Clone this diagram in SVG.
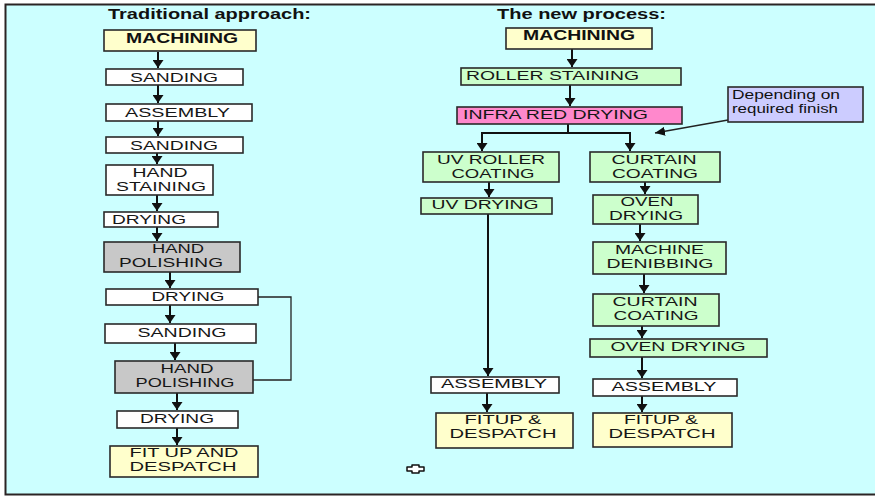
<svg xmlns="http://www.w3.org/2000/svg" width="875" height="498" viewBox="0 0 875 498">
<style>
.bx{stroke:#2a2a2a;stroke-width:1.6}
.y{fill:#FFFFCC}.w{fill:#FFFFFF}.g{fill:#CCFFCC}.gr{fill:#C8C8C8}.p{fill:#FF88CC}.l{fill:#CCCCFF}
text{font-family:"Liberation Sans",Arial,sans-serif;font-size:13px;fill:#161616}
.c{text-anchor:middle}
.b{font-weight:bold;fill:#111;font-size:14px}
.s{font-size:12px;fill:#111}
.ar{stroke:#111;stroke-width:2;fill:none;marker-end:url(#ah)}
.ln{stroke:#111;stroke-width:2;fill:none}
.thin{stroke:#222;stroke-width:1.3;fill:none}
</style>
<defs>
<marker id="ah" viewBox="0 0 8 11" refX="8" refY="5.5" markerWidth="8" markerHeight="11" markerUnits="userSpaceOnUse" orient="auto">
<path d="M0,0 L8,5.5 L0,11 z" fill="#111"/>
</marker>
<marker id="ah2" viewBox="0 0 10 9" refX="10" refY="4.5" markerWidth="10" markerHeight="9" markerUnits="userSpaceOnUse" orient="auto">
<path d="M0,0 L10,4.5 L0,9 z" fill="#111"/>
</marker>
</defs>
<rect x="0" y="0" width="875" height="498" fill="#FFFFFF"/>
<rect x="5.5" y="4.5" width="880" height="490" fill="#CCFFFF" stroke="#2b2424" stroke-width="2"/>

<text id="title-trad" class="b" x="108" y="19" textLength="203" lengthAdjust="spacingAndGlyphs">Traditional approach:</text>
<text id="title-new" class="b" x="497" y="19" textLength="169" lengthAdjust="spacingAndGlyphs">The new process:</text>

<g id="connectors">
<path class="ar" d="M158,52 V68"/>
<path class="ar" d="M158,85 V103"/>
<path class="ar" d="M158,121 V136"/>
<path class="ar" d="M157,153 V164"/>
<path class="ar" d="M157,195 V211"/>
<path class="ar" d="M157,227 V241"/>
<path class="ar" d="M170,272 V288"/>
<path class="ar" d="M170,305 V323"/>
<path class="ar" d="M175,343 V360"/>
<path class="ar" d="M177,393 V410"/>
<path class="ar" d="M177,428 V445"/>
<path class="thin" d="M258,297 H291 V380 H253"/>
<path class="ar" d="M572,49 V67"/>
<path class="ar" d="M570,85 V106"/>
<path class="ln" d="M568,124 V133 M481,133 H631"/>
<path class="ar" d="M482,133 V151"/>
<path class="ar" d="M630,133 V151"/>
<path class="ar" d="M489,182 V197"/>
<path class="ar" d="M488,214 V376"/>
<path class="ar" d="M487,393 V412"/>
<path class="ar" d="M645,182 V194"/>
<path class="ar" d="M640,224 V241"/>
<path class="ar" d="M644,274 V293"/>
<path class="ar" d="M642,326 V338"/>
<path class="ar" d="M642,357 V378"/>
<path class="ar" d="M642,396 V412"/>
<path class="thin" d="M728,120 L655,133" marker-end="url(#ah2)"/>
</g>

<g id="t-machining"><rect class="bx y" x="104" y="30" width="152" height="21"/><text class="c b" x="182" y="43" textLength="112" lengthAdjust="spacingAndGlyphs">MACHINING</text></g>
<g id="t-sanding1"><rect class="bx w" x="106" y="69" width="137" height="16"/><text class="c" x="174" y="82" textLength="88" lengthAdjust="spacingAndGlyphs">SANDING</text></g>
<g id="t-assembly"><rect class="bx w" x="106" y="104" width="146" height="17"/><text class="c" x="177.5" y="117" textLength="105" lengthAdjust="spacingAndGlyphs">ASSEMBLY</text></g>
<g id="t-sanding2"><rect class="bx w" x="106" y="137" width="137" height="16"/><text class="c" x="174" y="150" textLength="88" lengthAdjust="spacingAndGlyphs">SANDING</text></g>
<g id="t-handstaining"><rect class="bx w" x="106" y="165" width="107" height="30"/><text class="c" x="160" y="177" textLength="55" lengthAdjust="spacingAndGlyphs">HAND</text><text class="c" x="161" y="191" textLength="90" lengthAdjust="spacingAndGlyphs">STAINING</text></g>
<g id="t-drying1"><rect class="bx w" x="104" y="212" width="114" height="15"/><text class="c" x="149" y="224" textLength="74" lengthAdjust="spacingAndGlyphs">DRYING</text></g>
<g id="t-polishing1"><rect class="bx gr" x="104" y="242" width="136" height="30"/><text class="c" x="178" y="253" textLength="52" lengthAdjust="spacingAndGlyphs">HAND</text><text class="c" x="171" y="267" textLength="104" lengthAdjust="spacingAndGlyphs">POLISHING</text></g>
<g id="t-drying2"><rect class="bx w" x="106" y="289" width="152" height="16"/><text class="c" x="188" y="301" textLength="73" lengthAdjust="spacingAndGlyphs">DRYING</text></g>
<g id="t-sanding3"><rect class="bx w" x="105" y="324" width="151" height="19"/><text class="c" x="182" y="337" textLength="89" lengthAdjust="spacingAndGlyphs">SANDING</text></g>
<g id="t-polishing2"><rect class="bx gr" x="115" y="361" width="138" height="32"/><text class="c" x="187" y="373" textLength="53" lengthAdjust="spacingAndGlyphs">HAND</text><text class="c" x="185" y="387" textLength="99" lengthAdjust="spacingAndGlyphs">POLISHING</text></g>
<g id="t-drying3"><rect class="bx w" x="117" y="411" width="121" height="17"/><text class="c" x="177" y="423" textLength="74" lengthAdjust="spacingAndGlyphs">DRYING</text></g>
<g id="t-fitup"><rect class="bx y" x="110" y="446" width="148" height="31"/><text class="c" x="184" y="457" textLength="109" lengthAdjust="spacingAndGlyphs">FIT UP AND</text><text class="c" x="183" y="471" textLength="107" lengthAdjust="spacingAndGlyphs">DESPATCH</text></g>

<g id="n-machining"><rect class="bx y" x="506" y="28" width="146" height="21"/><text class="c b" x="579" y="40" textLength="112" lengthAdjust="spacingAndGlyphs">MACHINING</text></g>
<g id="n-roller"><rect class="bx g" x="461" y="68" width="220" height="17"/><text x="466" y="80" textLength="173" lengthAdjust="spacingAndGlyphs">ROLLER STAINING</text></g>
<g id="n-infrared"><rect class="bx p" x="457" y="107" width="225" height="17"/><text x="463" y="119" textLength="185" lengthAdjust="spacingAndGlyphs">INFRA RED DRYING</text></g>
<g id="n-uvroller"><rect class="bx g" x="423" y="152" width="136" height="30"/><text class="c" x="491" y="164" textLength="108" lengthAdjust="spacingAndGlyphs">UV ROLLER</text><text class="c" x="493" y="178" textLength="83" lengthAdjust="spacingAndGlyphs">COATING</text></g>
<g id="n-curtain1"><rect class="bx g" x="590" y="152" width="130" height="30"/><text class="c" x="654" y="164" textLength="85" lengthAdjust="spacingAndGlyphs">CURTAIN</text><text class="c" x="655" y="178" textLength="86" lengthAdjust="spacingAndGlyphs">COATING</text></g>
<g id="n-uvdrying"><rect class="bx g" x="421" y="198" width="131" height="16"/><text class="c" x="485" y="209" textLength="107" lengthAdjust="spacingAndGlyphs">UV DRYING</text></g>
<g id="n-oven1"><rect class="bx g" x="593" y="195" width="105" height="29"/><text class="c" x="647" y="206" textLength="53" lengthAdjust="spacingAndGlyphs">OVEN</text><text class="c" x="646" y="220" textLength="74" lengthAdjust="spacingAndGlyphs">DRYING</text></g>
<g id="n-denib"><rect class="bx g" x="593" y="242" width="133" height="32"/><text class="c" x="659.5" y="254" textLength="89" lengthAdjust="spacingAndGlyphs">MACHINE</text><text class="c" x="660" y="268" textLength="107" lengthAdjust="spacingAndGlyphs">DENIBBING</text></g>
<g id="n-curtain2"><rect class="bx g" x="593" y="294" width="126" height="32"/><text class="c" x="655" y="306" textLength="85" lengthAdjust="spacingAndGlyphs">CURTAIN</text><text class="c" x="656" y="320" textLength="85" lengthAdjust="spacingAndGlyphs">COATING</text></g>
<g id="n-oven2"><rect class="bx g" x="590" y="339" width="177" height="18"/><text class="c" x="678" y="351" textLength="135" lengthAdjust="spacingAndGlyphs">OVEN DRYING</text></g>
<g id="n-assembly-l"><rect class="bx w" x="431" y="377" width="128" height="16"/><text class="c" x="494" y="388" textLength="106" lengthAdjust="spacingAndGlyphs">ASSEMBLY</text></g>
<g id="n-assembly-r"><rect class="bx w" x="593" y="379" width="144" height="17"/><text class="c" x="664" y="391" textLength="105" lengthAdjust="spacingAndGlyphs">ASSEMBLY</text></g>
<g id="n-fitup-l"><rect class="bx y" x="436" y="413" width="137" height="35"/><text class="c" x="503" y="424" textLength="77" lengthAdjust="spacingAndGlyphs">FITUP &amp;</text><text class="c" x="503" y="438" textLength="107" lengthAdjust="spacingAndGlyphs">DESPATCH</text></g>
<g id="n-fitup-r"><rect class="bx y" x="593" y="413" width="139" height="34"/><text class="c" x="661" y="424" textLength="74" lengthAdjust="spacingAndGlyphs">FITUP &amp;</text><text class="c" x="662" y="438" textLength="107" lengthAdjust="spacingAndGlyphs">DESPATCH</text></g>

<g id="note"><rect class="bx l" x="728" y="87" width="135" height="35"/><text class="s" x="732" y="99" textLength="108" lengthAdjust="spacingAndGlyphs">Depending on</text><text class="s" x="732" y="113" textLength="106" lengthAdjust="spacingAndGlyphs">required finish</text></g>

<path d="M412,465 H419 V467 H424 V471 H419 V473 H412 V471 H407 V467 H412 Z" fill="#FFFFFF" stroke="#111" stroke-width="1.5" stroke-linejoin="round"/>
</svg>
